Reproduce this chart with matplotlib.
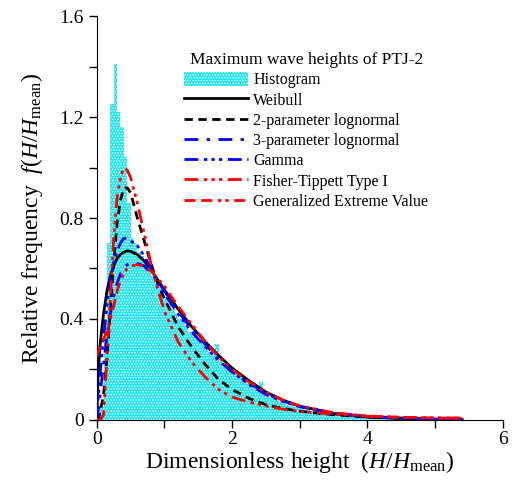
import numpy as np
import matplotlib
matplotlib.use('Agg')
from matplotlib import pyplot as plt
import matplotlib.patches as patches
from matplotlib.lines import Line2D

# histogram (bin width 0.05, left edges from 0)
BIN_WIDTH = 0.05
hist_heights = [
    0.02, 0.05, 0.40, 0.70, 1.25, 1.41, 1.22, 1.16, 1.04, 0.86,
    0.72, 0.70, 0.66, 0.65, 0.63, 0.60, 0.57, 0.55, 0.53, 0.50,
    0.48, 0.46, 0.44, 0.42, 0.40, 0.39, 0.37, 0.35, 0.34, 0.33,
    0.31, 0.30, 0.28, 0.27, 0.26, 0.30, 0.24, 0.22, 0.21, 0.20,
    0.19, 0.18, 0.17, 0.16, 0.15, 0.14, 0.13, 0.13, 0.15, 0.11,
    0.10, 0.09, 0.085, 0.08, 0.07, 0.065, 0.06, 0.055, 0.05, 0.05,
    0.045, 0.04, 0.04, 0.035, 0.035, 0.03, 0.03, 0.028, 0.025, 0.025,
    0.022, 0.02, 0.02, 0.018, 0.018, 0.016, 0.015, 0.014, 0.013, 0.012,
    0.012, 0.011, 0.010, 0.010, 0.009, 0.009, 0.008, 0.008, 0.007, 0.007,
    0.006, 0.006, 0.005, 0.005, 0.004,
]

# fitted curves
x_fit = [0, 0.02, 0.05, 0.1, 0.15, 0.2, 0.25, 0.3, 0.35, 0.4, 0.45, 0.5,
         0.6, 0.7, 0.8, 0.9, 1.0, 1.2, 1.4, 1.6, 1.8, 2.0, 2.25, 2.5,
         2.75, 3.0, 3.5, 4.0, 4.5, 5.0, 5.4]

weibull = [0, 0.18, 0.30, 0.42, 0.51, 0.57, 0.61, 0.64, 0.655, 0.665, 0.67, 0.668,
           0.655, 0.63, 0.595, 0.555, 0.515, 0.44, 0.37, 0.31, 0.255, 0.205, 0.155, 0.11,
           0.078, 0.054, 0.025, 0.011, 0.005, 0.002, 0.001]
lognorm2 = [0, 0.0, 0.03, 0.10, 0.24, 0.43, 0.62, 0.78, 0.87, 0.92, 0.92, 0.90,
            0.80, 0.71, 0.62, 0.54, 0.48, 0.37, 0.29, 0.22, 0.16, 0.12, 0.085, 0.06,
            0.045, 0.034, 0.02, 0.011, 0.007, 0.004, 0.003]
lognorm3 = [0, 0.03, 0.10, 0.22, 0.33, 0.42, 0.49, 0.54, 0.58, 0.60, 0.615, 0.62,
            0.62, 0.61, 0.58, 0.55, 0.51, 0.43, 0.36, 0.30, 0.24, 0.19, 0.145, 0.105,
            0.075, 0.053, 0.026, 0.013, 0.007, 0.004, 0.003]
gamma = [0, 0.08, 0.18, 0.33, 0.45, 0.55, 0.62, 0.67, 0.70, 0.72, 0.72, 0.71,
         0.69, 0.65, 0.60, 0.55, 0.50, 0.42, 0.35, 0.29, 0.235, 0.19, 0.14, 0.10,
         0.073, 0.052, 0.026, 0.013, 0.006, 0.003, 0.002]
fisher_tippett = [0, 0, 0.0, 0.02, 0.24, 0.47, 0.72, 0.88, 0.96, 1.0, 0.99, 0.96,
                  0.86, 0.74, 0.62, 0.52, 0.43, 0.31, 0.23, 0.17, 0.12, 0.09, 0.07, 0.055,
                  0.042, 0.033, 0.022, 0.014, 0.010, 0.008, 0.007]
gev = [0.25, 0.27, 0.29, 0.32, 0.35, 0.40, 0.45, 0.51, 0.55, 0.58, 0.60, 0.61,
       0.615, 0.61, 0.59, 0.56, 0.53, 0.45, 0.38, 0.31, 0.25, 0.20, 0.15, 0.11,
       0.078, 0.055, 0.028, 0.015, 0.010, 0.007, 0.006]

labels = ['Histogram', 'Weibull', '2-parameter lognormal', '3-parameter lognormal',
          'Gamma', 'Fisher-Tippett Type I', 'Generalized Extreme Value']

plt.rcParams['font.family'] = 'Liberation Serif'
plt.rcParams['mathtext.fontset'] = 'custom'
plt.rcParams['mathtext.rm'] = 'Liberation Serif'
plt.rcParams['mathtext.it'] = 'Liberation Serif:italic'
plt.rcParams['hatch.linewidth'] = 0.6

fig = plt.figure(figsize=(5.12, 4.91), dpi=100)
ax = fig.add_axes([0.189, 0.145, 0.793, 0.822])

HIST_FACE = '#22e4ef'
edges = np.arange(len(hist_heights)) * BIN_WIDTH
ax.bar(edges, hist_heights, width=BIN_WIDTH, align='edge', color=HIST_FACE,
       hatch='......', edgecolor='white', linewidth=0, zorder=1)

styles = [
    ('black', '-', 2.0),
    ('black', (0, (3.0, 2.0)), 2.0),
    ('blue', (0, (5.0, 3.0, 1.2, 3.0)), 2.0),
    ('blue', (0, (5.0, 2.0, 1.2, 1.5, 1.2, 1.5, 1.2, 2.0)), 2.0),
    ('red', (0, (5.0, 2.0, 1.2, 1.5, 1.2, 1.5, 1.2, 2.0)), 2.0),
    ('red', (0, (4.0, 2.0, 4.0, 2.0, 1.2, 1.5, 1.2, 2.0)), 2.0),
]
series = [weibull, lognorm2, lognorm3, gamma, fisher_tippett, gev]
handles = [patches.Patch(facecolor=HIST_FACE, hatch='......', edgecolor='white', linewidth=0)]
for (col, ls, lw), ys in zip(styles, series):
    ax.plot(x_fit, ys, color=col, linestyle=ls, linewidth=lw, zorder=3)
    handles.append(Line2D([], [], color=col, linestyle=ls, linewidth=lw))

ax.set_xlim(0, 6)
ax.set_ylim(0, 1.6)
ax.set_xticks([0, 2, 4, 6])
ax.set_xticks([1, 3, 5], minor=True)
ax.set_yticks([0, 0.4, 0.8, 1.2, 1.6])
ax.set_yticklabels(['0', '0.4', '0.8', '1.2', '1.6'])
ax.set_yticks(np.arange(0.2, 1.6, 0.4), minor=True)
ax.tick_params(which='both', direction='out', length=6, width=1, labelsize=14)
ax.tick_params(axis='x', pad=2)
ax.spines['top'].set_visible(False)
ax.spines['right'].set_visible(False)

ax.set_xlabel(r'Dimensionless height  ($H$/$H_{\rm mean}$)', fontsize=17, labelpad=1)
ax.set_ylabel(r'Relative frequency  $f$($H$/$H_{\rm mean}$)', fontsize=17, labelpad=10)

leg = ax.legend(handles, labels, title='Maximum wave heights of PTJ-2',
                loc='upper left', bbox_to_anchor=(184 / 512, 1 - 52 / 491),
                bbox_transform=fig.transFigure, frameon=False, fontsize=11.5,
                title_fontsize=12.5, handlelength=4.0, handleheight=1.0,
                handletextpad=0.35, labelspacing=0.23, borderpad=0, borderaxespad=0)

plt.savefig('out.png', dpi=100)
